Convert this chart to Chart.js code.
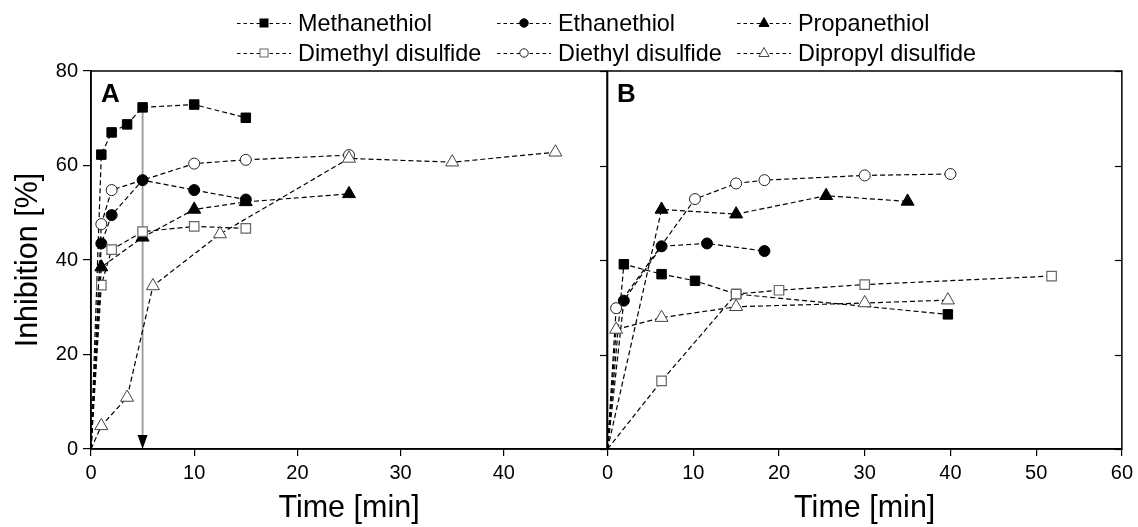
<!DOCTYPE html>
<html><head><meta charset="utf-8">
<script src="https://cdn.jsdelivr.net/npm/chart.js@4"></script>
<style>
html,body{margin:0;padding:0;background:#fff;}
#wrap{position:relative;width:1138px;height:527px;overflow:hidden;font-family:"Liberation Sans",Arial,sans-serif;}
#cA{position:absolute;left:0;top:0;width:620px;height:527px;}
#cB{position:absolute;left:597px;top:0;width:541px;height:527px;}
.leg{position:absolute;height:30px;white-space:nowrap;}
.leg svg{position:absolute;left:0;top:0;}
.leg span{position:absolute;left:61px;top:0;line-height:30px;font-size:23.4px;color:#000;}
.plab{position:absolute;font-weight:bold;font-size:26px;line-height:30px;color:#000;}
</style></head>
<body><div id="wrap">
<canvas id="cA" width="620" height="527"></canvas>
<canvas id="cB" width="541" height="527"></canvas>
<div id="legend"></div>
<div class="plab" style="left:101px;top:78px;">A</div>
<div class="plab" style="left:617px;top:78px;">B</div>
</div>
<script>
// ---- Data ----
const seriesNames = ['Methanethiol','Ethanethiol','Propanethiol','Dimethyl disulfide','Diethyl disulfide','Dipropyl disulfide'];

// Panel A  [time (min), inhibition (%)]
const A_methanethiol = [[0,0],[1,62.3],[2,67],[3.5,68.7],[5,72.3],[10,72.9],[15,70.1]];
const A_ethanethiol  = [[0,0],[1,43.5],[2,49.5],[5,56.9],[10,54.8],[15,52.8]];
const A_propanethiol = [[0,0],[1,38.5],[5,44.8],[10,50.7],[15,52.3],[25,54]];
const A_dimethylDS   = [[0,0],[1,34.7],[2,42.2],[5,46],[10,47.1],[15,46.7]];
const A_diethylDS    = [[0,0],[1,47.6],[2,54.8],[10,60.4],[15,61.2],[25,62.2]];
const A_dipropylDS   = [[0,0],[1,4.9],[3.5,10.9],[6,34.5],[12.5,45.5],[25,61.5],[35,60.7],[45,62.8]];

// Panel B
const B_methanethiol = [[0,0],[1.9,39.1],[6.3,37],[10.2,35.6],[15,32.8],[39.7,28.5]];
const B_ethanethiol  = [[0,0],[1.9,31.4],[6.3,42.9],[11.6,43.5],[18.3,41.9]];
const B_propanethiol = [[0,0],[6.3,50.7],[15,49.7],[25.5,53.6],[35,52.4]];
const B_dimethylDS   = [[0,0],[6.3,14.4],[15,32.8],[20,33.6],[30,34.8],[51.8,36.6]];
const B_diethylDS    = [[0,0],[1,29.8],[10.2,52.9],[15,56.2],[18.3,56.9],[30,57.9],[40,58.2]];
const B_dipropylDS   = [[0,0],[1,25.3],[6.3,27.8],[15,30.1],[30,30.9],[39.7,31.5]];

// Ticks
const xTicksA = [0,10,20,30,40];
const xMaxA = 50;
const xTicksB = [0,10,20,30,40,50,60];
const xMaxB = 60;
const yTicks = [0,20,40,60,80];
const yMax = 80;

// Arrow in panel A (time, from inhibition, to inhibition)
const arrowX = 5, arrowTop = 72.3, arrowBottom = 0;

// ---- Styles ----
const styles = [
  {ps:'rect',     r:6.7, fill:'#000', stroke:'#000', bw:1},
  {ps:'circle',   r:5.5, fill:'#000', stroke:'#000', bw:1},
  {ps:'triangle', r:7.5, fill:'#000', stroke:'#000', bw:1},
  {ps:'rect',     r:6.7, fill:'#fff', stroke:'#666', bw:1.2},
  {ps:'circle',   r:5.5, fill:'#fff', stroke:'#222', bw:1},
  {ps:'triangle', r:7.5, fill:'#fff', stroke:'#444', bw:1}
];

function makeDatasets(seriesList){
  return seriesList.map((pts,i)=>{
    const s = styles[i];
    return {
      label: seriesNames[i],
      data: pts.map(p=>({x:p[0],y:p[1]})),
      order: seriesList.length - i,
      borderColor:'#000', borderWidth:1.2, borderDash:[5,3],
      tension:0, fill:false,
      pointStyle:s.ps,
      pointRadius: c => c.dataIndex===0 ? 0 : s.r,
      pointBackgroundColor:s.fill, pointBorderColor:s.stroke, pointBorderWidth:s.bw,
      clip:false
    };
  });
}

const framePlugin = {
  id:'frame',
  afterDatasetsDraw(chart){
    const {ctx, chartArea:a, scales:{y}} = chart;
    ctx.save();
    ctx.strokeStyle='#000';
    ctx.lineWidth=1.2;
    yTicks.forEach(v=>{
      const py = Math.round(y.getPixelForValue(v))+0.5;
      ctx.beginPath(); ctx.moveTo(a.right-7,py); ctx.lineTo(a.right,py); ctx.stroke();
    });
    ctx.lineWidth=1.5;
    ctx.strokeRect(a.left, a.top, a.right-a.left, a.bottom-a.top);
    ctx.restore();
  }
};

const arrowPlugin = {
  id:'arrow',
  beforeDatasetsDraw(chart){
    const {ctx, scales:{x,y}} = chart;
    const px = x.getPixelForValue(arrowX);
    const top = y.getPixelForValue(arrowTop), bot = y.getPixelForValue(arrowBottom);
    ctx.save();
    ctx.strokeStyle='#999'; ctx.lineWidth=1.8;
    ctx.beginPath(); ctx.moveTo(px,top); ctx.lineTo(px,bot-12); ctx.stroke();
    ctx.fillStyle='#000';
    ctx.beginPath(); ctx.moveTo(px-5,bot-14); ctx.lineTo(px+5,bot-14); ctx.lineTo(px,bot); ctx.closePath(); ctx.fill();
    ctx.restore();
  }
};

const FONT = '"Liberation Sans", Arial, sans-serif';

function xScale(ticks, max){
  return {
    type:'linear', min:0, max:max,
    afterBuildTicks: s => { s.ticks = ticks.map(v=>({value:v})); },
    ticks:{font:{family:FONT,size:20}, color:'#000', padding:5, maxRotation:0, autoSkip:false},
    grid:{drawOnChartArea:false, drawTicks:true, tickLength:7, color:'#000', lineWidth:1.2},
    border:{display:true, color:'#000', width:1.5},
    title:{display:true, text:'Time [min]', font:{family:FONT,size:30.5}, color:'#000', padding:0},
    afterFit: s => { s.height = 78; }
  };
}

function yScale(show){
  const sc = {
    type:'linear', min:0, max:yMax, display:show,
    afterBuildTicks: s => { s.ticks = yTicks.map(v=>({value:v})); },
    ticks:{font:{family:FONT,size:20}, color:'#000', padding:5},
    grid:{drawOnChartArea:false, drawTicks:true, tickLength:8, color:'#000', lineWidth:1.2},
    border:{display:true, color:'#000', width:1.5},
    title:{display:true, text:'Inhibition [%]', font:{family:FONT,size:30.5}, color:'#000', padding:{top:10,bottom:0}}
  };
  if (show) sc.afterFit = s => { s.width = 91; };
  return sc;
}

function commonOpts(padding, xs, ys){
  return {
    responsive:false, animation:false, events:[],
    layout:{padding:padding},
    plugins:{legend:{display:false}, tooltip:{enabled:false}},
    scales:{x:xs, y:ys}
  };
}

new Chart(document.getElementById('cA'), {
  type:'line',
  data:{datasets:makeDatasets([A_methanethiol,A_ethanethiol,A_propanethiol,A_dimethylDS,A_diethylDS,A_dipropylDS])},
  options:commonOpts({top:71,right:13,left:0,bottom:0}, xScale(xTicksA,xMaxA), yScale(true)),
  plugins:[arrowPlugin, framePlugin]
});

new Chart(document.getElementById('cB'), {
  type:'line',
  data:{datasets:makeDatasets([B_methanethiol,B_ethanethiol,B_propanethiol,B_dimethylDS,B_diethylDS,B_dipropylDS])},
  options:commonOpts({top:71,right:15,left:10,bottom:0}, xScale(xTicksB,xMaxB), yScale(false)),
  plugins:[framePlugin]
});

// ---- Legend (HTML) ----
const legendCols = [237, 497, 737];
const legendRows = [8, 38];
function markerSVG(s){
  const cx=27, cy=15;
  let m='';
  if(s.ps==='rect') m=`<rect x="${cx-4}" y="${cy-4}" width="8" height="8" fill="${s.fill}" stroke="${s.stroke}" stroke-width="1"/>`;
  else if(s.ps==='circle') m=`<circle cx="${cx}" cy="${cy}" r="4.2" fill="${s.fill}" stroke="${s.stroke}" stroke-width="1"/>`;
  else m=`<polygon points="${cx},${cy-5.5} ${cx+5},${cy+3.5} ${cx-5},${cy+3.5}" fill="${s.fill}" stroke="${s.stroke}" stroke-width="1"/>`;
  return `<svg width="56" height="30"><line x1="0" y1="${cy+0.5}" x2="54" y2="${cy+0.5}" stroke="#000" stroke-width="1" stroke-dasharray="3.5,3"/>${m}</svg>`;
}
const legendEl = document.getElementById('legend');
seriesNames.forEach((name,i)=>{
  const d = document.createElement('div');
  d.className='leg';
  d.style.left = legendCols[i%3]+'px';
  d.style.top = legendRows[Math.floor(i/3)]+'px';
  d.innerHTML = markerSVG(styles[i]) + `<span>${name}</span>`;
  legendEl.appendChild(d);
});
</script>
</body></html>
